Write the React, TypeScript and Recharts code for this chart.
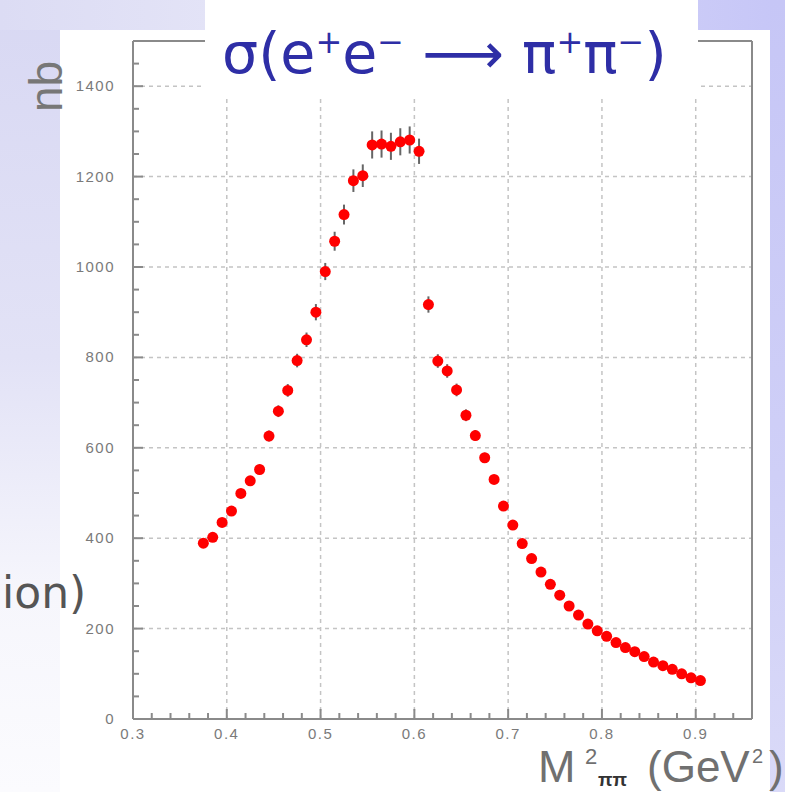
import React from 'react';
import { ScatterChart, Scatter, XAxis, YAxis, ReferenceLine, ErrorBar } from 'recharts';

// s = M^2_pipi (GeV^2)
const sValues = [
  0.375, 0.385, 0.395, 0.405, 0.415, 0.425, 0.435, 0.445, 0.455, 0.465,
  0.475, 0.485, 0.495, 0.505, 0.515, 0.525, 0.535, 0.545, 0.555, 0.565,
  0.575, 0.585, 0.595, 0.605, 0.615, 0.625, 0.635, 0.645, 0.655, 0.665,
  0.675, 0.685, 0.695, 0.705, 0.715, 0.725, 0.735, 0.745, 0.755, 0.765,
  0.775, 0.785, 0.795, 0.805, 0.815, 0.825, 0.835, 0.845, 0.855, 0.865,
  0.875, 0.885, 0.895, 0.905,
];
// sigma (nb)
const sigmaValues = [
  389, 402, 435, 460, 499, 527, 552, 626, 681, 727,
  793, 839, 900, 990, 1057, 1116, 1191, 1202, 1270, 1272,
  1267, 1277, 1281, 1256, 917, 792, 770, 728, 672, 627,
  578, 530, 471, 429, 388, 355, 325, 298, 274, 250,
  230, 210, 195, 183, 169, 158, 149, 138, 126, 118,
  110, 100, 91, 85,
];
const sigmaErrors = [
  8, 8, 9, 9, 10, 10, 11, 12, 13, 14,
  15, 16, 18, 19, 21, 22, 25, 25, 30, 30,
  30, 30, 30, 28, 18, 15, 15, 14, 13, 12,
  11, 10, 9, 8, 7, 7, 6, 6, 5, 5,
  5, 4, 4, 4, 3, 3, 3, 3, 3, 3,
  2, 2, 2, 2,
];

const xTicks = [
  0.3, 0.32, 0.34, 0.36, 0.38, 0.4, 0.42, 0.44, 0.46, 0.48,
  0.5, 0.52, 0.54, 0.56, 0.58, 0.6, 0.62, 0.64, 0.66, 0.68,
  0.7, 0.72, 0.74, 0.76, 0.78, 0.8, 0.82, 0.84, 0.86, 0.88,
  0.9, 0.92, 0.94, 0.96,
];
const xLabels = [0.3, 0.4, 0.5, 0.6, 0.7, 0.8, 0.9];
const xGrid = [0.4, 0.5, 0.6, 0.7, 0.8, 0.9];
const yTicks = [
  0, 50, 100, 150, 200, 250, 300, 350, 400, 450, 500, 550, 600, 650, 700, 750,
  800, 850, 900, 950, 1000, 1050, 1100, 1150, 1200, 1250, 1300, 1350, 1400, 1450, 1500,
];
const yLabels = [0, 200, 400, 600, 800, 1000, 1200, 1400];
const yGrid = [200, 400, 600, 800, 1000, 1200, 1400];

const data = sValues.map((s, i) => ({ s, sigma: sigmaValues[i], err: sigmaErrors[i] }));

const axisColor = '#8a8a8a';
const labelColor = '#7a7a7a';

const isMajorX = (v: number) => xLabels.some((l) => Math.abs(l - v) < 1e-6);

const YTick = (props: any) => {
  const { x, y, payload } = props;
  const v = payload.value;
  const major = yLabels.includes(v);
  return (
    <g>
      <line x1={x} x2={x + (major ? 10 : 6)} y1={y} y2={y} stroke={axisColor} strokeWidth={2} />
      {major && (
        <text x={x - 18} y={y} dy={5} textAnchor="end" fontSize={15} letterSpacing={1.5} fill={labelColor}
          fontFamily="Liberation Sans, Arial, sans-serif">{v}</text>
      )}
    </g>
  );
};

const XTick = (props: any) => {
  const { x, y, payload } = props;
  const v = payload.value;
  const major = isMajorX(v);
  return (
    <g>
      <line x1={x} x2={x} y1={y} y2={y - (major ? 10 : 6)} stroke={axisColor} strokeWidth={2} />
      {major && (
        <text x={x} y={y + 20} textAnchor="middle" fontSize={15} letterSpacing={1.5} fill={labelColor}
          fontFamily="Liberation Sans, Arial, sans-serif">{v.toFixed(1)}</text>
      )}
    </g>
  );
};

const Dot = (props: any) => {
  const { cx, cy } = props;
  return <circle cx={cx} cy={cy} r={5.5} fill="#ff0000" />;
};

export default function App() {
  return (
    <div style={{ position: 'absolute', left: 0, top: 0, width: 785, height: 792, overflow: 'hidden', background: '#ffffff' }}>
      {/* slide background */}
      <div style={{ position: 'absolute', left: 0, top: 0, width: 60, height: 792,
        background: 'linear-gradient(to bottom, #d8d8f3 0%, #e2e2f6 45%, #f6f6fc 75%, #fbfbfe 100%)' }} />
      <div style={{ position: 'absolute', left: 0, top: 0, width: 785, height: 30,
        background: 'linear-gradient(to right, #dcdcf4 0%, #e4e4f7 30%, #d2d2f8 70%, #c6c6f7 100%)' }} />
      <div style={{ position: 'absolute', left: 770, top: 0, width: 15, height: 792,
        background: 'linear-gradient(to bottom, #c6c6f6 0%, #cfcff7 60%, #dadaf8 100%)' }} />

      <div style={{ position: 'absolute', left: 60, top: 30 }}>
        <ScatterChart width={710} height={762} margin={{ top: 11, right: 18, bottom: 0, left: 0 }}>
          <XAxis
            type="number"
            dataKey="s"
            domain={[0.3, 0.96]}
            ticks={xTicks}
            interval={0}
            height={73}
            tickSize={0}
            tickMargin={0}
            tickLine={false}
            axisLine={{ stroke: axisColor, strokeWidth: 2 }}
            tick={<XTick />}
            allowDataOverflow
          />
          <YAxis
            type="number"
            dataKey="sigma"
            domain={[0, 1500]}
            ticks={yTicks}
            interval={0}
            width={73}
            tickSize={0}
            tickMargin={0}
            tickLine={false}
            axisLine={{ stroke: axisColor, strokeWidth: 2 }}
            tick={<YTick />}
            allowDataOverflow
          />
          {yGrid.map((v) => (
            <ReferenceLine key={'gy' + v} y={v} stroke="#c4c4c4" strokeDasharray="4 4" strokeWidth={1.5} />
          ))}
          {xGrid.map((v) => (
            <ReferenceLine key={'gx' + v} x={v} stroke="#c4c4c4" strokeDasharray="4 4" strokeWidth={1.5} />
          ))}
          <ReferenceLine y={1500} stroke={axisColor} strokeWidth={2} />
          <ReferenceLine x={0.96} stroke={axisColor} strokeWidth={2} />
          <Scatter data={data} shape={<Dot />} isAnimationActive={false}>
            <ErrorBar dataKey="err" direction="y" width={0} stroke="#666666" strokeWidth={2} />
          </Scatter>
        </ScatterChart>
      </div>

      {/* title box */}
      <div style={{ position: 'absolute', left: 205, top: 0, width: 493, height: 95, background: '#ffffff' }} />
      <div style={{ position: 'absolute', left: 222, top: 6, fontSize: 57, lineHeight: '72px', color: '#2e2ea6',
        fontFamily: 'DejaVu Sans, sans-serif', whiteSpace: 'nowrap' }}>
        σ(e<sup style={{ fontSize: 32 }}>+</sup>e<sup style={{ fontSize: 32 }}>−</sup> ⟶ π<sup style={{ fontSize: 32 }}>+</sup>π<sup style={{ fontSize: 32 }}>−</sup>)
      </div>

      {/* y axis title */}
      <div style={{ position: 'absolute', left: 60, top: 112, transform: 'rotate(-90deg)', transformOrigin: '0 0',
        fontSize: 46, lineHeight: '46px', color: '#777', fontFamily: 'Liberation Sans, Arial, sans-serif', whiteSpace: 'nowrap' }}>
        <span style={{ position: 'relative', top: -37 }}>nb</span>
      </div>

      {/* stray slide text */}
      <div style={{ position: 'absolute', left: 2, top: 568, fontSize: 44, lineHeight: '50px', color: '#555',
        fontFamily: 'DejaVu Sans, sans-serif', whiteSpace: 'nowrap' }}>ion)</div>

      {/* x axis title */}
      <div style={{ position: 'absolute', left: 538, top: 746, width: 247, height: 46, color: '#707070',
        fontFamily: 'Liberation Sans, Arial, sans-serif', whiteSpace: 'nowrap' }}>
        <span style={{ position: 'absolute', left: 0, top: 0, fontSize: 45, lineHeight: '42px' }}>M</span>
        <span style={{ position: 'absolute', left: 47, top: 0, fontSize: 22, lineHeight: '22px' }}>2</span>
        <span style={{ position: 'absolute', left: 60, top: 24, fontSize: 19, lineHeight: '20px', fontWeight: 'bold', color: '#333' }}>ππ</span>
        <span style={{ position: 'absolute', left: 109, top: 0, fontSize: 44, lineHeight: '42px' }}>(GeV</span>
        <span style={{ position: 'absolute', left: 214, top: 0, fontSize: 20, lineHeight: '20px' }}>2</span>
        <span style={{ position: 'absolute', left: 231, top: 0, fontSize: 44, lineHeight: '42px' }}>)</span>
      </div>
    </div>
  );
}
